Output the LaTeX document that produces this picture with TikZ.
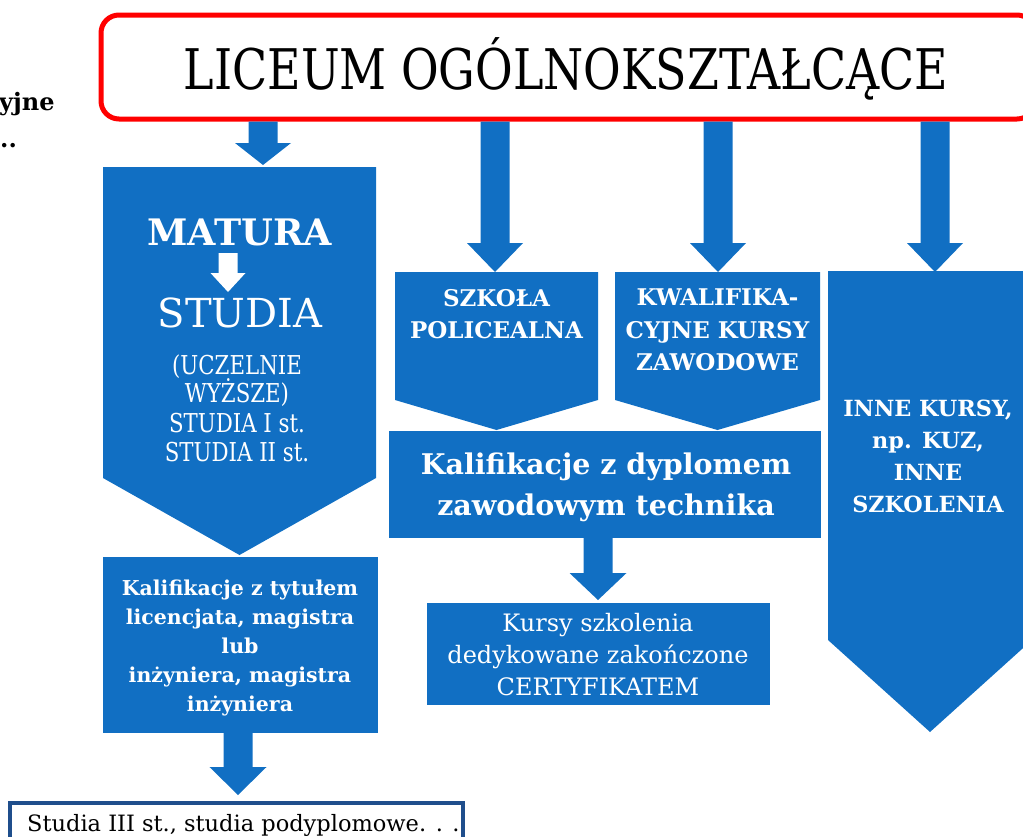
\documentclass[tikz,border=0pt]{standalone}
\usepackage{fontspec}
\setmainfont{DejaVu Serif}
\newfontfamily\cond[FakeStretch=0.82]{DejaVu Serif}
\usetikzlibrary{calc}
\definecolor{boxblue}{RGB}{17,111,195}
\definecolor{navyline}{RGB}{31,78,140}
\definecolor{redline}{RGB}{255,0,0}
% #1 start coordinate, #2 tip coordinate, #3 head length, #4 fill style, #5 shaft half width, #6 head half width
\newcommand\blockarrow[6]{%
  \fill[#4] let \p1=(#1), \p2=(#2) in
    (\x1-#5,\y1) -- (\x1+#5,\y1) -- (\x1+#5,\y2+#3) -- (\x1+#6,\y2+#3) --
    (\x2,\y2) -- (\x1-#6,\y2+#3) -- (\x1-#5,\y2+#3) -- cycle;}
\begin{document}
\begin{tikzpicture}[x=1pt,y=-1pt,
  bluebox/.style={fill=boxblue, draw=none, inner sep=0pt, outer sep=0pt, anchor=north west},
  wtext/.style={text=white, align=center, inner sep=0pt},
  barrow/.style={fill=boxblue},
  warrow/.style={fill=white},
]
\useasboundingbox (0,0) rectangle (1023,836);
\clip (0,0) rectangle (1023,836);

% cut-off text at the left
\node[anchor=base west, inner sep=0pt, font=\bfseries\fontsize{24}{28}\selectfont] (cut1) at (-1,110) {yjne};
\node[anchor=base west, inner sep=0pt, font=\bfseries\fontsize{24}{28}\selectfont] (cut2) at (0,147) {..};

% boxes
\node[bluebox, minimum width=273pt, minimum height=311pt] (matura) at (103,167) {};
\coordinate (maturatip) at (239.5,555);
\fill[boxblue] (matura.north west) -- (matura.south west) -- (maturatip) -- (matura.south east) -- (matura.north east) -- cycle;

\node[bluebox, minimum width=275pt, minimum height=176pt] (kaltyt) at (103,557) {};

\node[bluebox, minimum width=203pt, minimum height=128pt] (szkola) at (395,272) {};
\coordinate (szkolatip) at (496.5,430);
\fill[boxblue] (szkola.north west) -- (szkola.south west) -- (szkolatip) -- (szkola.south east) -- (szkola.north east) -- cycle;

\node[bluebox, minimum width=205pt, minimum height=128pt] (kwal) at (615,272) {};
\coordinate (kwaltip) at (717.5,430);
\fill[boxblue] (kwal.north west) -- (kwal.south west) -- (kwaltip) -- (kwal.south east) -- (kwal.north east) -- cycle;

\node[bluebox, minimum width=432pt, minimum height=107pt] (kalif) at (389,431) {};
\node[bluebox, minimum width=343pt, minimum height=102pt] (kursy) at (427,603) {};

\node[bluebox, minimum width=204pt, minimum height=369pt] (inne) at (828,271) {};
\coordinate (innetip) at (930,732);
\fill[boxblue] (inne.north west) -- (inne.south west) -- (innetip) -- (inne.south east) -- (inne.north east) -- cycle;

\node[draw=navyline, line width=4pt, fill=white, minimum width=453pt, minimum height=60pt, anchor=north west, inner sep=0pt] (st3) at (8,801) {};

% arrows from the top box
\node[draw=redline, line width=5pt, rounded corners=18pt, fill=white, minimum width=934pt, minimum height=104pt, inner sep=0pt] (lic) at (568,67) {};
\coordinate (a1tip) at (263,165);
\coordinate (a2tip) at (495,272);
\coordinate (a3tip) at (718,272);
\coordinate (a4tip) at (935,272);
\coordinate (a1s) at (a1tip |- lic.south);
\coordinate (a2s) at (a2tip |- lic.south);
\coordinate (a3s) at (a3tip |- lic.south);
\coordinate (a4s) at (a4tip |- lic.south);
\blockarrow{a1s}{a1tip}{22}{barrow}{14.5}{28}
\blockarrow{a2s}{a2tip}{29}{barrow}{14.5}{28}
\blockarrow{a3s}{a3tip}{29}{barrow}{14.5}{28}
\blockarrow{a4s}{a4tip}{29}{barrow}{14.5}{28}

% arrows between lower boxes
\coordinate (a5tip) at (598,600);
\coordinate (a5s) at (a5tip |- kalif.south);
\blockarrow{a5s}{a5tip}{27}{barrow}{14.5}{28.5}
\coordinate (a6tip) at (238,795);
\coordinate (a6s) at (a6tip |- kaltyt.south);
\blockarrow{a6s}{a6tip}{28}{barrow}{14.5}{28.5}

% texts
\node[anchor=base, inner sep=0pt, font=\cond\fontsize{56}{60}\selectfont] (lictext) at (566,89) {LICEUM OGÓLNOKSZTAŁCĄCE};

\node[wtext, anchor=base, font=\bfseries\fontsize{36.5}{40}\selectfont] (mat) at (239.5,245) {MATURA};
\coordinate (wa1) at (228,253);
\coordinate (wa2) at (228,292);
\blockarrow{wa1}{wa2}{19}{warrow}{9.5}{17.5}
\node[wtext, anchor=base, font=\fontsize{40}{42}\selectfont] (stud) at (240,327) {STUDIA};
\node[wtext, anchor=base, font=\cond\fontsize{26}{29}\selectfont] (l1) at (237,374) {(UCZELNIE};
\node[wtext, anchor=base, font=\cond\fontsize{26}{29}\selectfont] (l2) at (237,402) {WYŻSZE)};
\node[wtext, anchor=base, font=\cond\fontsize{26}{29}\selectfont] (l3) at (237,432) {STUDIA I st.};
\node[wtext, anchor=base, font=\cond\fontsize{26}{29}\selectfont] (l4) at (237,461) {STUDIA II st.};

\node[wtext, font=\bfseries\fontsize{20.5}{29}\selectfont] (kaltyttext) at (240,648)
  {Kalifikacje z tytułem\\licencjata, magistra\\lub\\inżyniera, magistra\\inżyniera};

\node[wtext, font=\bfseries\fontsize{23}{32}\selectfont, anchor=north] (szkolatext) at (496.5,289)
  {SZKOŁA\\POLICEALNA};
\node[wtext, font=\bfseries\fontsize{23}{32.5}\selectfont, anchor=north] (kwaltext) at (717.5,289)
  {KWALIFIKA-\\CYJNE KURSY\\ZAWODOWE};
\node[wtext, font=\bfseries\fontsize{28.5}{41}\selectfont] (kaliftext) at (606,487)
  {Kalifikacje z dyplomem\\zawodowym technika};
\node[wtext, font=\fontsize{24}{32}\selectfont] (kursytext) at (598,655)
  {Kursy szkolenia\\dedykowane zakończone\\CERTYFIKATEM};
\node[wtext, font=\bfseries\fontsize{22.3}{32}\selectfont] (innetext) at (928,456)
  {INNE KURSY,\\np. KUZ,\\INNE\\SZKOLENIA};

\node[anchor=base west, inner sep=0pt, font=\fontsize{22.5}{24}\selectfont] (st3text) at (27,831)
  {Studia III st., studia podyplomowe. . .};
\end{tikzpicture}
\end{document}
